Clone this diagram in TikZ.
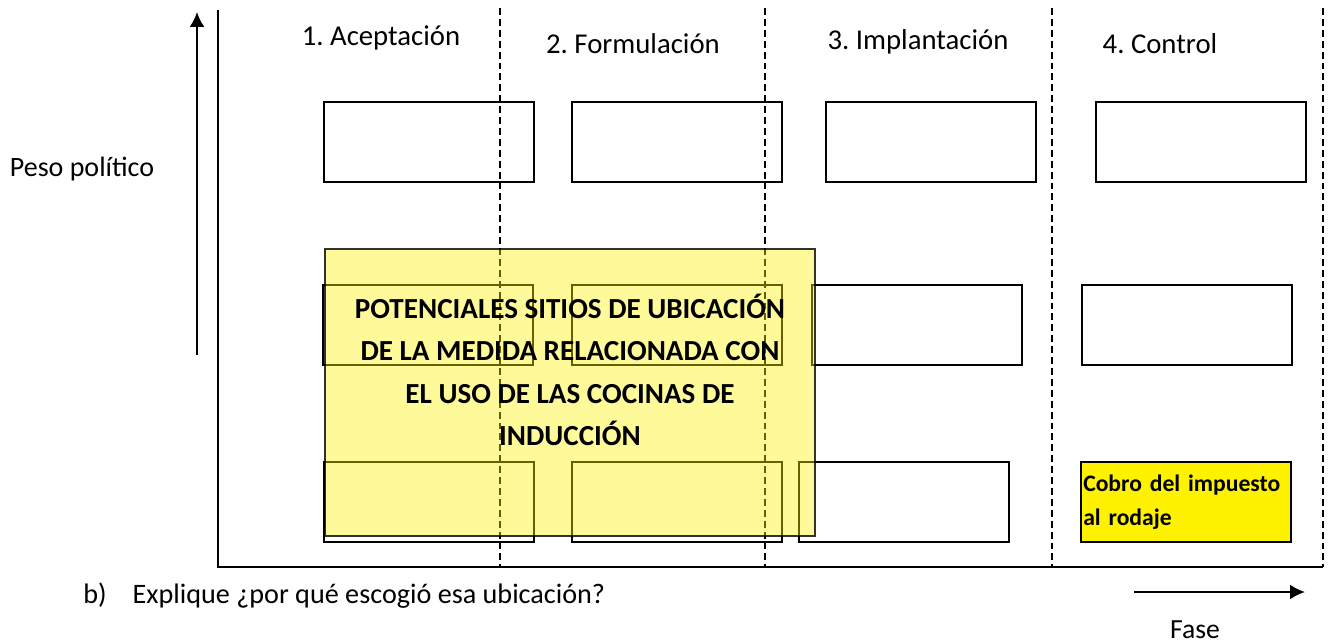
\documentclass[tikz,border=0pt]{standalone}
\usepackage{fontspec}
\setmainfont{Carlito}
\usetikzlibrary{arrows.meta}
\frenchspacing

\tikzset{
    caja/.style={draw, line width=1pt, minimum width=115.5pt, minimum height=44pt, inner sep=0pt},
    etapa/.style={font=\fontsize{15.8}{19}\selectfont},
    flecha/.style={line width=1.1pt, -{Latex[length=8.2pt,width=8.2pt]}},
}

\begin{document}
\begin{tikzpicture}[x=0.55pt, y=-0.55pt]
    \useasboundingbox (0,0) rectangle (1333,643);
    \coordinate (ejeArriba) at (218,10);
    \coordinate (origen) at (218,567);
    \coordinate (ejeFin) at (1323,567);
    \foreach \x/\n in {500/1,765/2,1052/3,1323/4}{
        \coordinate (sepArriba\n) at (\x,8);
        \coordinate (sepAbajo\n) at (\x,567);
        \draw[dash pattern=on 3.8pt off 2.2pt, line width=0.8pt] (sepArriba\n) -- (sepAbajo\n);
    }
    \draw[line width=1pt] (ejeArriba) -- (origen) -- (ejeFin);

    \node[etapa] (aceptacion) at (381,38) {1. Aceptación};
    \node[etapa] (formulacion) at (633,44) {2. Formulación};
    \node[etapa] (implantacion) at (918,42) {3. Implantación};
    \node[etapa] (control) at (1160,44) {4. Control};

    \foreach \x/\n in {429/1,677/2,931/3,1201/4} \node[caja] (alto\n) at (\x,142) {};
    \foreach \x/\n in {428/1,677/2,917/3,1187/4} \node[caja] (medio\n) at (\x,325) {};
    \foreach \x/\n in {429/1,677/2,904/3} \node[caja] (bajo\n) at (\x,502) {};
    \node[caja, fill=yellow, align=left, text width=113pt, font=\bfseries\fontsize{13}{19}\selectfont] (cobro) at (1186,502) {Cobro del impuesto\\al rodaje};

    \node[draw=black, draw opacity=0.8, line width=1pt, fill=yellow, fill opacity=0.4, minimum width=269.5pt, minimum height=157.9pt] (sitios) at (570,392.5) {};
    \node[align=center, font=\bfseries\fontsize{16}{23.4}\selectfont] (sitiosTexto) at (570,370) {POTENCIALES SITIOS DE UBICACIÓN\\DE LA MEDIDA RELACIONADA CON\\EL USO DE LAS COCINAS DE\\INDUCCIÓN};

    \coordinate (pesoAbajo) at (197,355);
    \coordinate (pesoArriba) at (197,12);
    \draw[flecha] (pesoAbajo) -- (pesoArriba);
    \node[font=\fontsize{15.4}{18}\selectfont] (peso) at (82,169) {Peso político};

    \coordinate (faseInicio) at (1134,592);
    \coordinate (faseFin) at (1305,592);
    \draw[flecha] (faseInicio) -- (faseFin);
    \node[font=\fontsize{15.2}{18}\selectfont] (fase) at (1195,630) {Fase};

    \node[anchor=west, inner sep=0pt, font=\fontsize{15.5}{18}\selectfont] (pregunta) at (83,596) {b)\hspace{14.3pt}Explique ¿por qué escogió esa ubicación?};
\end{tikzpicture}
\end{document}
